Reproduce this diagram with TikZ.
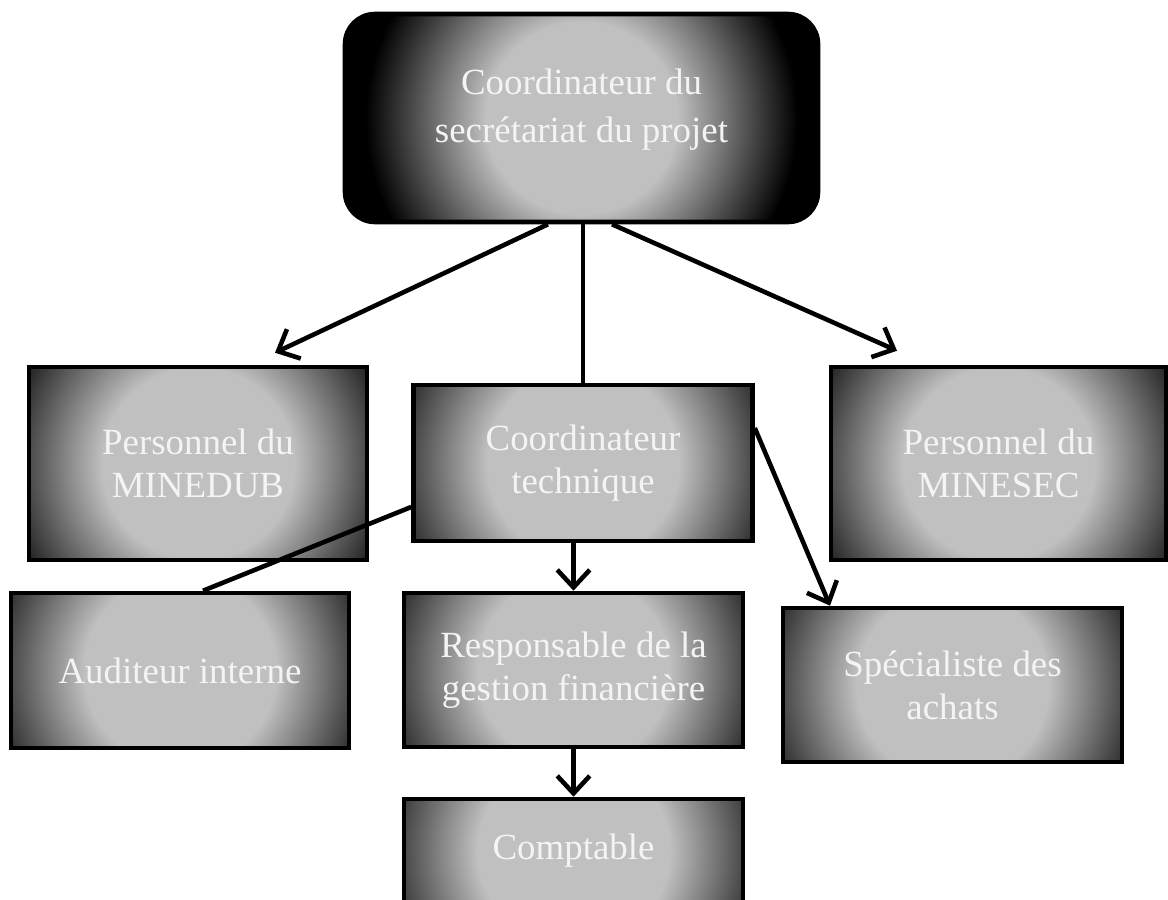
\documentclass[tikz,border=0pt]{standalone}
\usepackage{fontspec}
\setmainfont{Liberation Serif}
\usepackage{tikz}
\usetikzlibrary{arrows.meta}

\definecolor{glowc}{RGB}{192,192,192}
\definecolor{textc}{RGB}{244,244,244}
% radius 6cm: plateau to ~1.95cm, black from ~4.3cm
\pgfdeclareradialshading{glow}{\pgfpoint{0bp}{0bp}}{color(0bp)=(glowc); color(8bp)=(glowc); color(18bp)=(black); color(50bp)=(black)}

\begin{document}
\begin{tikzpicture}[every node/.style={font=\fontsize{21}{24.5}\selectfont}, >={Straight Barb[length=3.5mm,width=6.5mm]},
	box/.style={draw=black, line width=2.6pt, fill=black, text=textc, align=center, inner sep=0pt,
		path picture={\shade[shading=glow] (path picture bounding box.center) circle (6cm);}},
	link/.style={line width=2.6pt}]
	\useasboundingbox (0,0) rectangle (23.36,-17.98);
	\node[box, rounded corners=0.6cm, minimum width=9.46cm, minimum height=4.16cm] (top) at (11.63,-2.36) {};
	\node[text=textc, align=center, font=\fontsize{21}{27.3}\selectfont] (toptext) at ([yshift=0.16cm]top.center) {Coordinateur du\\ secrétariat du projet};
	\node[box, minimum width=6.76cm, minimum height=3.86cm] (minedub) at (3.96,-9.27) {Personnel du\\ MINEDUB};
	\node[box, minimum width=6.78cm, minimum height=3.12cm] (coord) at (11.66,-9.26) {Coordinateur\\ technique};
	\node[box, minimum width=6.70cm, minimum height=3.86cm] (minesec) at (19.97,-9.27) {Personnel du\\ MINESEC};
	\node[box, minimum width=6.76cm, minimum height=3.10cm] (auditeur) at (3.60,-13.41) {Auditeur interne};
	\node[box, minimum width=6.78cm, minimum height=3.08cm] (resp) at (11.47,-13.40) {Responsable de la\\ gestion financière};
	\node[box, minimum width=6.78cm, minimum height=3.08cm] (spec) at (19.05,-13.70) {Spécialiste des\\ achats};
	\node[box, minimum width=6.78cm, minimum height=2.08cm] (compt) at (11.47,-17.02) {Comptable};
	\draw[link, ->] ([xshift=-0.67cm]top.south) -- ([xshift=1.54cm,yshift=0.24cm]minedub.north);
	\draw[link] (coord.north) -- (coord.north |- top.south);
	\draw[link, ->] ([xshift=0.61cm]top.south) -- ([xshift=-2.03cm,yshift=0.28cm]minesec.north);
	\draw[link] ([yshift=-0.88cm]coord.west) -- ([xshift=0.46cm]auditeur.north);
	\draw[link, ->] (resp.north |- coord.south) -- (resp.north);
	\draw[link, ->] (resp.south) -- (compt.north);
	\draw[link, ->] ([yshift=0.7cm]coord.east) -- ([xshift=-2.45cm]spec.north);
\end{tikzpicture}
\end{document}
